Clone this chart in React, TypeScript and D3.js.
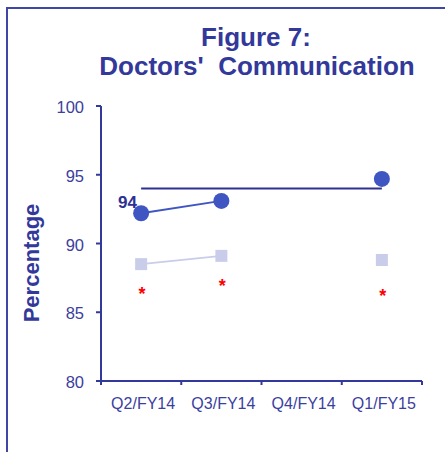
import React from 'react';
import * as d3 from 'd3';

const categories = ['Q2/FY14', 'Q3/FY14', 'Q4/FY14', 'Q1/FY15'];
const hospital = [92.2, 93.1, null, 94.7];
const national = [88.5, 89.1, null, 88.8];
const significant = [86.6, 87.2, null, 86.5];
const benchmark = 94;
const yTicks = [80, 85, 90, 95, 100];

const W = 445;
const H = 452;
const navy = '#33399a';
const font = 'Arial, "Liberation Sans", sans-serif';

export default function App() {
    const x = d3
        .scaleBand()
        .domain(categories)
        .range([101, 422]);

    const y = d3
        .scaleLinear()
        .domain([80, 100])
        .range([381, 106]);

    const cx = (c) => x(c) + x.bandwidth() / 2;

    const pts = (vals) =>
        categories
            .map((c, i) => ({ c, v: vals[i] }))
            .filter(d => d.v != null);

    const line = d3
        .line()
        .defined(d => d.v != null)
        .x(d => cx(d.c))
        .y(d => y(d.v));

    const hospPts = categories.map((c, i) => ({ c, v: hospital[i] }));
    const natPts = categories.map((c, i) => ({ c, v: national[i] }));

    const first = categories[0];
    const last = categories[categories.length - 1];

    return (
        <svg width={W} height={H} style={{ position: 'absolute', left: 0, top: 0 }}>
            <rect x={7} y={8} width={460} height={470} fill="white" stroke="#3f46a6" strokeWidth={2} />

            <text x={256} y={46} textAnchor="middle" fontFamily={font} fontWeight="bold" fontSize={26} fill={navy}>
                Figure 7:
            </text>
            <text x={257} y={75} textAnchor="middle" fontFamily={font} fontWeight="bold" fontSize={26} fill={navy} style={{ whiteSpace: 'pre' }}>
                {"Doctors'  Communication"}
            </text>

            {/* y axis */}
            <line x1={101} x2={101} y1={y(100)} y2={y(80)} stroke={navy} strokeWidth={2} />
            {yTicks.map(t => (
                <g key={t}>
                    <line x1={96} x2={101} y1={y(t)} y2={y(t)} stroke={navy} strokeWidth={2} />
                    <text x={84} y={y(t) + 7} textAnchor="end" fontFamily={font} fontSize={16.5} fill="#3b409e">
                        {t}
                    </text>
                </g>
            ))}
            <text
                transform={`translate(39,263) rotate(-90)`}
                textAnchor="middle"
                fontFamily={font}
                fontWeight="bold"
                fontSize={22}
                fill={navy}
            >
                Percentage
            </text>

            {/* x axis */}
            <line x1={101} x2={422} y1={y(80)} y2={y(80)} stroke={navy} strokeWidth={2} />
            {categories.map((c, i) => (
                <line key={'t' + c} x1={x(c)} x2={x(c)} y1={y(80)} y2={y(80) + 4} stroke={navy} strokeWidth={2} />
            ))}
            <line x1={422} x2={422} y1={y(80)} y2={y(80) + 4} stroke={navy} strokeWidth={2} />
            {categories.map(c => (
                <text key={c} x={cx(c) + 2} y={409} textAnchor="middle" fontFamily={font} fontSize={16} fill="#3b409e">
                    {c}
                </text>
            ))}

            {/* benchmark */}
            <line x1={cx(first)} x2={cx(last)} y1={y(benchmark)} y2={y(benchmark)} stroke="#2e3192" strokeWidth={2} />
            <text x={137} y={208} textAnchor="end" fontFamily={font} fontWeight="bold" fontSize={17} fill="#2e3192">
                {benchmark}
            </text>

            {/* national */}
            <path d={line(natPts)} fill="none" stroke="#c9cdea" strokeWidth={2} />
            {pts(national).map(d => (
                <rect key={d.c} x={cx(d.c) - 6} y={y(d.v) - 6} width={12} height={12} fill="#c9cdea" />
            ))}

            {/* hospital */}
            <path d={line(hospPts)} fill="none" stroke="#3f55c2" strokeWidth={2} />
            {pts(hospital).map(d => (
                <circle key={d.c} cx={cx(d.c)} cy={y(d.v)} r={8} fill="#3f55c2" />
            ))}

            {pts(significant).map(d => (
                <text key={d.c} x={cx(d.c) + 1} y={y(d.v) + 10} textAnchor="middle" fontFamily={font} fontWeight="bold" fontSize={18} fill="#ff0000">
                    *
                </text>
            ))}
        </svg>
    );
}
